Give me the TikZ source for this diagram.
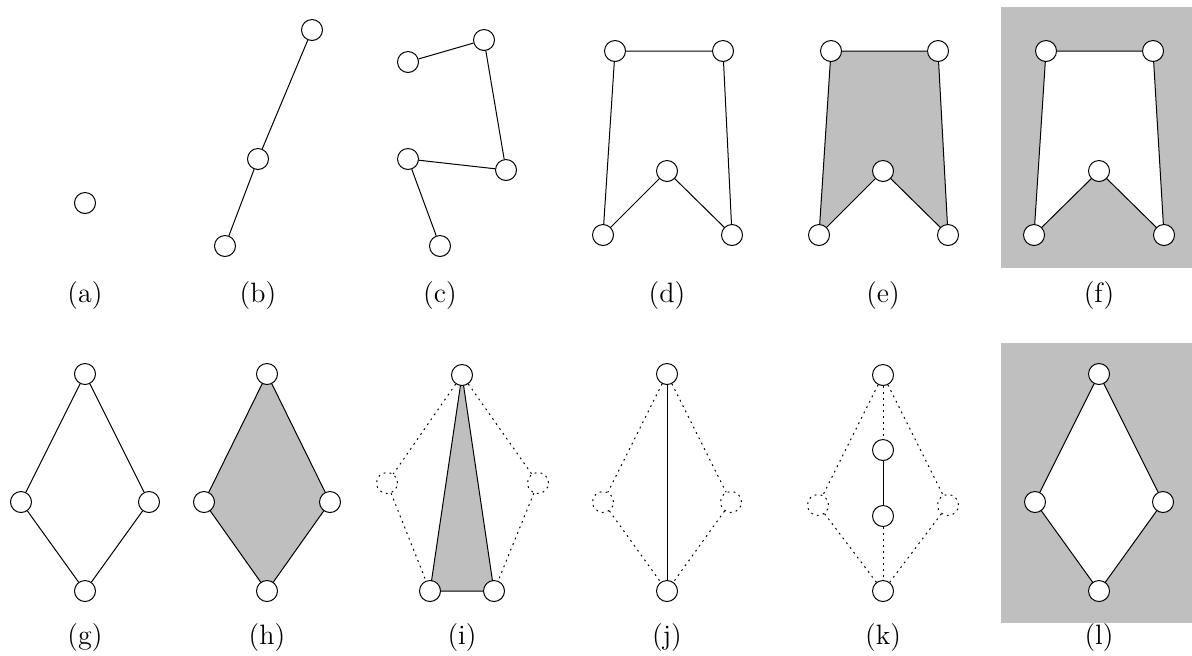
\documentclass[tikz,border=0pt]{standalone}
\begin{document}
\begin{tikzpicture}[x=0.5pt,y=-0.5pt,
  v/.style={circle,draw,fill=white,line width=0.5pt,minimum size=10.5pt,inner sep=0pt},
  dv/.style={circle,draw,dash pattern=on 0.9pt off 2.1pt,line width=0.5pt,minimum size=10.5pt,inner sep=0pt},
  e/.style={line width=0.5pt},
  de/.style={line width=0.5pt,dash pattern=on 0.9pt off 2.1pt},
  lab/.style={font=\fontsize{14}{17}\selectfont,inner sep=0pt}]
\useasboundingbox (0,0) rectangle (1192,655);
% backgrounds
\fill[lightgray] (1001,7) rectangle (1192,268);
\fill[lightgray] (1001,343) rectangle (1192,623);
% (a)
\node[v] (a1) at (85,203) {};
% (b)
\node[v] (b1) at (225,246) {};
\node[v] (b2) at (258,159) {};
\node[v] (b3) at (312,30) {};
\draw[e] (b1) -- (b2) -- (b3);
% (c)
\node[v] (c1) at (408,62) {};
\node[v] (c2) at (484,40) {};
\node[v] (c3) at (506,170) {};
\node[v] (c4) at (408,159) {};
\node[v] (c5) at (440,246) {};
\draw[e] (c1) -- (c2) -- (c3) -- (c4) -- (c5);
% (d)
\coordinate (dA) at (615,51); \coordinate (dB) at (723,51);
\coordinate (dC) at (732,235); \coordinate (dD) at (667,171);
\coordinate (dE) at (603,235);
\draw[e] (dA) -- (dB) -- (dC) -- (dD) -- (dE) -- cycle;
\node[v] (d1) at (dA) {}; \node[v] (d2) at (dB) {};
\node[v] (d3) at (dC) {}; \node[v] (d4) at (dD) {};
\node[v] (d5) at (dE) {};
% (e)
\coordinate (eA) at (831,51); \coordinate (eB) at (938,51);
\coordinate (eC) at (948,235); \coordinate (eD) at (883,171);
\coordinate (eE) at (819,235);
\filldraw[e,fill=lightgray] (eA) -- (eB) -- (eC) -- (eD) -- (eE) -- cycle;
\node[v] (e1) at (eA) {}; \node[v] (e2) at (eB) {};
\node[v] (e3) at (eC) {}; \node[v] (e4) at (eD) {};
\node[v] (e5) at (eE) {};
% (f)
\coordinate (fA) at (1046,51); \coordinate (fB) at (1153,51);
\coordinate (fC) at (1164,235); \coordinate (fD) at (1099,171);
\coordinate (fE) at (1034,235);
\filldraw[e,fill=white] (fA) -- (fB) -- (fC) -- (fD) -- (fE) -- cycle;
\node[v] (f1) at (fA) {}; \node[v] (f2) at (fB) {};
\node[v] (f3) at (fC) {}; \node[v] (f4) at (fD) {};
\node[v] (f5) at (fE) {};
% (g)
\node[v] (g1) at (85,374) {};
\node[v] (g2) at (149,502) {};
\node[v] (g3) at (85,591) {};
\node[v] (g4) at (21,502) {};
\draw[e] (g1) -- (g2) -- (g3) -- (g4) -- (g1);
% (h)
\coordinate (hA) at (267,374); \coordinate (hB) at (330,502);
\coordinate (hC) at (267,591); \coordinate (hD) at (204,502);
\filldraw[e,fill=lightgray] (hA) -- (hB) -- (hC) -- (hD) -- cycle;
\node[v] (h1) at (hA) {}; \node[v] (h2) at (hB) {};
\node[v] (h3) at (hC) {}; \node[v] (h4) at (hD) {};
% (i)
\coordinate (iA) at (462,375); \coordinate (iB) at (494,591);
\coordinate (iC) at (430,591);
\node[dv] (i4) at (387,483) {};
\node[dv] (i5) at (538,483) {};
\filldraw[e,fill=lightgray] (iA) -- (iB) -- (iC) -- cycle;
\node[v] (i1) at (iA) {}; \node[v] (i2) at (iB) {};
\node[v] (i3) at (iC) {};
\draw[de] (i1) -- (i4) -- (i3);
\draw[de] (i1) -- (i5) -- (i2);
% (j)
\node[v] (j1) at (667,374) {};
\node[v] (j2) at (667,591) {};
\node[dv] (j3) at (603,502) {};
\node[dv] (j4) at (731,502) {};
\draw[e] (j1) -- (j2);
\draw[de] (j1) -- (j3) -- (j2);
\draw[de] (j1) -- (j4) -- (j2);
% (k)
\node[v] (k1) at (883,375) {};
\node[v] (k2) at (883,450) {};
\node[v] (k3) at (883,516) {};
\node[v] (k4) at (883,591) {};
\node[dv] (k5) at (818,505) {};
\node[dv] (k6) at (948,505) {};
\draw[de] (k1) -- (k2);
\draw[e] (k2) -- (k3);
\draw[de] (k3) -- (k4);
\draw[de] (k1) -- (k5) -- (k4);
\draw[de] (k1) -- (k6) -- (k4);
% (l)
\coordinate (lA) at (1099,374); \coordinate (lB) at (1163,502);
\coordinate (lC) at (1099,591); \coordinate (lD) at (1035,502);
\filldraw[e,fill=white] (lA) -- (lB) -- (lC) -- (lD) -- cycle;
\node[v] (l1) at (lA) {}; \node[v] (l2) at (lB) {};
\node[v] (l3) at (lC) {}; \node[v] (l4) at (lD) {};
% labels
\node[lab] (la) at (85,296) {(a)};
\node[lab] (lb) at (258,296) {(b)};
\node[lab] (lc) at (440,296) {(c)};
\node[lab] (ld) at (667,296) {(d)};
\node[lab] (le) at (883,296) {(e)};
\node[lab] (lf) at (1099,296) {(f)};
\node[lab] (lg) at (85,637) {(g)};
\node[lab] (lh) at (267,637) {(h)};
\node[lab] (li) at (462,637) {(i)};
\node[lab] (lj) at (667,637) {(j)};
\node[lab] (lk) at (883,637) {(k)};
\node[lab] (ll) at (1099,637) {(l)};
\end{tikzpicture}
\end{document}
